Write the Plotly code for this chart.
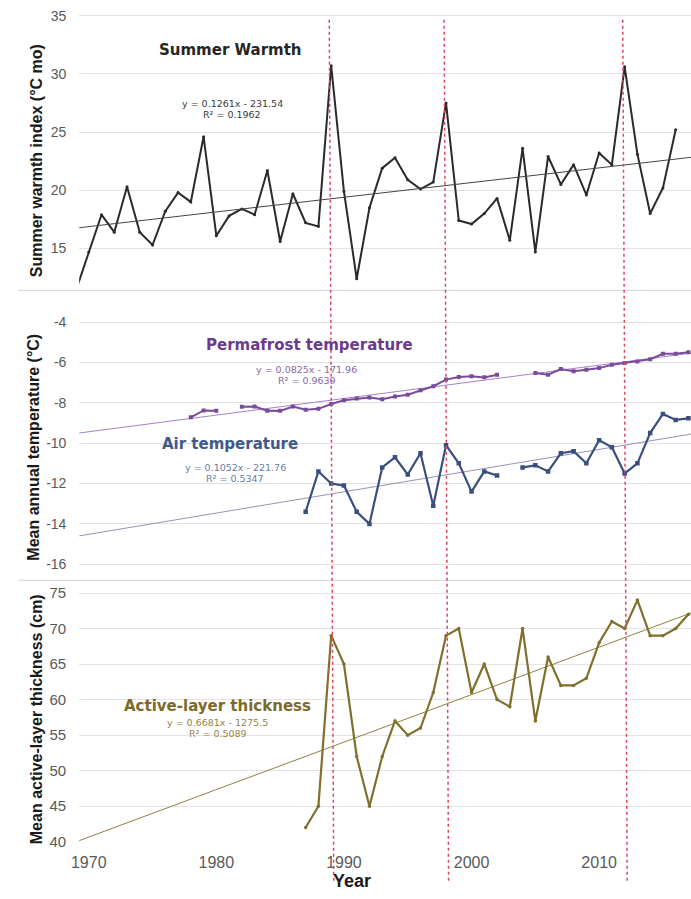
import plotly.graph_objects as go

# ---------------- data ----------------
years_summer = list(range(1969, 2017))
summer_warmth = [11.4, 14.7, 17.9, 16.4, 20.3, 16.4, 15.3, 18.2, 19.8, 19.0,
                 24.6, 16.1, 17.8, 18.4, 17.9, 21.7, 15.6, 19.7, 17.2, 16.9,
                 30.7, 19.9, 12.4, 18.5, 21.9, 22.8, 20.9, 20.1, 20.7, 27.5,
                 17.4, 17.1, 18.0, 19.3, 15.7, 23.6, 14.7, 22.9, 20.5, 22.2,
                 19.6, 23.2, 22.2, 30.6, 23.1, 18.0, 20.2, 25.2]

years_perma = list(range(1978, 2018))
permafrost_temp = [-8.72, -8.38, -8.40, None, -8.20, -8.18, -8.39, -8.40, -8.18, -8.34,
                   -8.30, -8.06, -7.87, -7.79, -7.74, -7.82, -7.69, -7.60, -7.38, -7.18,
                   -6.85, -6.72, -6.69, -6.74, -6.61, None, None, -6.52, -6.61, -6.33,
                   -6.44, -6.36, -6.28, -6.11, -6.03, -5.95, -5.84, -5.57, -5.57, -5.49]

years_air = list(range(1987, 2018))
air_temp = [-13.4, -11.4, -12.0, -12.1, -13.4, -14.0, -11.2, -10.7, -11.55, -10.5,
            -13.1, -10.1, -11.0, -12.4, -11.4, -11.6, None, -11.2, -11.1, -11.4,
            -10.5, -10.4, -11.0, -9.85, -10.2, -11.5, -11.0, -9.5, -8.55, -8.85, -8.77]

years_alt = list(range(1987, 2018))
active_layer = [42, 45, 69, 65, 52, 45, 52, 57, 55, 56, 61, 69, 70, 61, 65, 60,
                59, 70, 57, 66, 62, 62, 63, 68, 71, 70, 74, 69, 69, 70, 72]

# linear fits (slope, intercept, R²)
fit_summer = [0.1261, -231.54, 0.1962]
fit_perma = [0.0825, -171.96, 0.9639]
fit_air = [0.1052, -221.76, 0.5347]
fit_alt = [0.6681, -1275.5, 0.5089]

event_years = [1989, 1998, 2012]
x_ticks = [1970, 1980, 1990, 2000, 2010]
summer_ticks = [15, 20, 25, 30, 35]
temp_ticks = [-16, -14, -12, -10, -8, -6, -4]
alt_ticks = [40, 45, 50, 55, 60, 65, 70, 75]

# ---------------- layout constants ----------------
W, H = 691, 899
X_RANGE = [1969.25, 2017.2]
X_LEFT = 72 / W


def py(px):
    """pixel row -> paper y"""
    return 1 - px / H


def trend(fit):
    xs = list(X_RANGE)
    return xs, [fit[0] * x + fit[1] for x in xs]


C_SUM = "#2a2a2a"
C_PERM = "#7a4a9c"
C_PERM_T = "#a583c4"
C_AIR = "#3a4f80"
C_AIR_T = "#9a90b8"
C_ALT = "#80702c"
C_ALT_T = "#8f8040"

fig = go.Figure()

# top panel: summer warmth
fig.add_trace(go.Scatter(x=years_summer, y=summer_warmth, mode="lines+markers",
                         line=dict(color=C_SUM, width=2), marker=dict(size=3, color=C_SUM),
                         xaxis="x", yaxis="y", showlegend=False))
tx, ty = trend(fit_summer)
fig.add_trace(go.Scatter(x=tx, y=ty, mode="lines", line=dict(color="#444444", width=1),
                         xaxis="x", yaxis="y", showlegend=False))

# middle panel: permafrost & air temperature
tx, ty = trend(fit_perma)
fig.add_trace(go.Scatter(x=tx, y=ty, mode="lines", line=dict(color=C_PERM_T, width=1),
                         xaxis="x2", yaxis="y2", showlegend=False))
tx, ty = trend(fit_air)
fig.add_trace(go.Scatter(x=tx, y=ty, mode="lines", line=dict(color=C_AIR_T, width=1),
                         xaxis="x2", yaxis="y2", showlegend=False))
fig.add_trace(go.Scatter(x=years_perma, y=permafrost_temp, mode="lines+markers",
                         line=dict(color=C_PERM, width=2), marker=dict(size=4, color=C_PERM, symbol="square"),
                         connectgaps=False, xaxis="x2", yaxis="y2", showlegend=False))
fig.add_trace(go.Scatter(x=years_air, y=air_temp, mode="lines+markers",
                         line=dict(color=C_AIR, width=2.2), marker=dict(size=4.5, color=C_AIR, symbol="square"),
                         connectgaps=False, xaxis="x2", yaxis="y2", showlegend=False))

# bottom panel: active-layer thickness
tx, ty = trend(fit_alt)
fig.add_trace(go.Scatter(x=tx, y=ty, mode="lines", line=dict(color=C_ALT_T, width=1),
                         xaxis="x3", yaxis="y3", showlegend=False))
fig.add_trace(go.Scatter(x=years_alt, y=active_layer, mode="lines+markers",
                         line=dict(color=C_ALT, width=2.2), marker=dict(size=3.5, color=C_ALT),
                         xaxis="x3", yaxis="y3", showlegend=False))

tick_font = dict(family="Liberation Sans, Arial, sans-serif", size=14, color="#595959")
grid = "#e3e3e3"
hidden_ticks = dict(ticks="outside", ticklen=9, tickcolor="rgba(0,0,0,0)")

common_x = dict(range=X_RANGE, domain=[X_LEFT, 1], showgrid=False, zeroline=False,
                showline=False, ticks="")

fig.update_layout(
    width=W, height=H, margin=dict(l=0, r=0, t=0, b=0),
    paper_bgcolor="white", plot_bgcolor="white",
    xaxis=dict(common_x, anchor="y", matches="x3", showticklabels=False),
    xaxis2=dict(common_x, anchor="y2", matches="x3", showticklabels=False),
    xaxis3=dict(common_x, anchor="y3", tickvals=x_ticks, ticks="outside", ticklen=6,
                tickcolor="rgba(0,0,0,0)",
                tickfont=dict(family="Liberation Sans, Arial, sans-serif", size=16, color="#595959")),
    yaxis=dict(domain=[py(293), py(8)], range=[11.40, 35.66], tickvals=summer_ticks,
               showgrid=True, gridcolor=grid, gridwidth=1, zeroline=False, tickfont=tick_font,
               anchor="x", **hidden_ticks),
    yaxis2=dict(domain=[py(585), py(293)], range=[-16.77, -2.43],
                tickvals=temp_ticks, ticktext=[str(t) for t in temp_ticks],
                showgrid=True, gridcolor=grid, gridwidth=1, zeroline=False, tickfont=tick_font,
                anchor="x2", **hidden_ticks),
    yaxis3=dict(domain=[py(849.3), py(586)], range=[40, 76.72],
                tickvals=alt_ticks,
                showgrid=True, gridcolor=grid, gridwidth=1, zeroline=False,
                tickfont=dict(family="Liberation Sans, Arial, sans-serif", size=15, color="#595959"),
                anchor="x3", **hidden_ticks),
)

# panel separators
for row in (293, 585.5):
    fig.add_shape(type="line", xref="paper", yref="paper", x0=10 / W, x1=1,
                  y0=py(row), y1=py(row), line=dict(color="#dcdcdc", width=1.2))

# dotted event lines through the three panels
for yr in event_years:
    fig.add_shape(type="line", xref="x3", yref="paper", x0=yr - 0.15, x1=yr + 0.2,
                  y0=py(20), y1=py(890), line=dict(color="#e0455e", width=1.5, dash="dot"))

axis_title_font = dict(family="Liberation Sans, Arial, sans-serif", size=16, color="#1a1a1a")


def ann(text, xpx, ypx, font, angle=0):
    fig.add_annotation(text=text, xref="paper", yref="paper", x=xpx / W, y=py(ypx),
                       xanchor="center", yanchor="middle", showarrow=False,
                       textangle=angle, font=font)


ann("<b>Summer warmth index (°C mo)</b>", 29, 162, axis_title_font, -90)
ann("<b>Mean annual temperature (°C)</b>", 26, 451, axis_title_font, -90)
ann("<b>Mean active-layer thickness (cm)</b>", 29, 726, axis_title_font, -90)
ann("<b>Year</b>", 348, 889, dict(family="Liberation Sans, Arial, sans-serif", size=18, color="#1a1a1a"))

label_font = "DejaVu Sans, Verdana, sans-serif"


def eq_text(fit):
    return f"y = {fit[0]}x - {abs(fit[1])}", f"R² = {fit[2]:.4f}"


ann("<b>Summer Warmth</b>", 225, 50, dict(family=label_font, size=15, color="#262626"))
e1, e2 = eq_text(fit_summer)
ann(e1, 227, 104, dict(family=label_font, size=9.5, color="#3a3a3a"))
ann(e2, 227, 116, dict(family=label_font, size=9.5, color="#3a3a3a"))

ann("<b>Permafrost temperature</b>", 305, 348, dict(family=label_font, size=15, color="#6b3a8e"))
e1, e2 = eq_text(fit_perma)
ann(e1, 302, 373, dict(family=label_font, size=9.5, color="#8a67a6"))
ann(e2, 302, 384, dict(family=label_font, size=9.5, color="#8a67a6"))

ann("<b>Air temperature</b>", 225, 448, dict(family=label_font, size=15, color="#41598a"))
e1, e2 = eq_text(fit_air)
ann(e1, 230, 472, dict(family=label_font, size=9.5, color="#6a7ca4"))
ann(e2, 230, 483, dict(family=label_font, size=9.5, color="#6a7ca4"))

ann("<b>Active-layer thickness</b>", 212, 712.5, dict(family=label_font, size=15, color="#7d6a28"))
e1, e2 = eq_text(fit_alt)
ann(e1, 212, 729, dict(family=label_font, size=9.5, color="#97843f"))
ann(e2, 212, 740, dict(family=label_font, size=9.5, color="#97843f"))

fig.write_html("out.html")
